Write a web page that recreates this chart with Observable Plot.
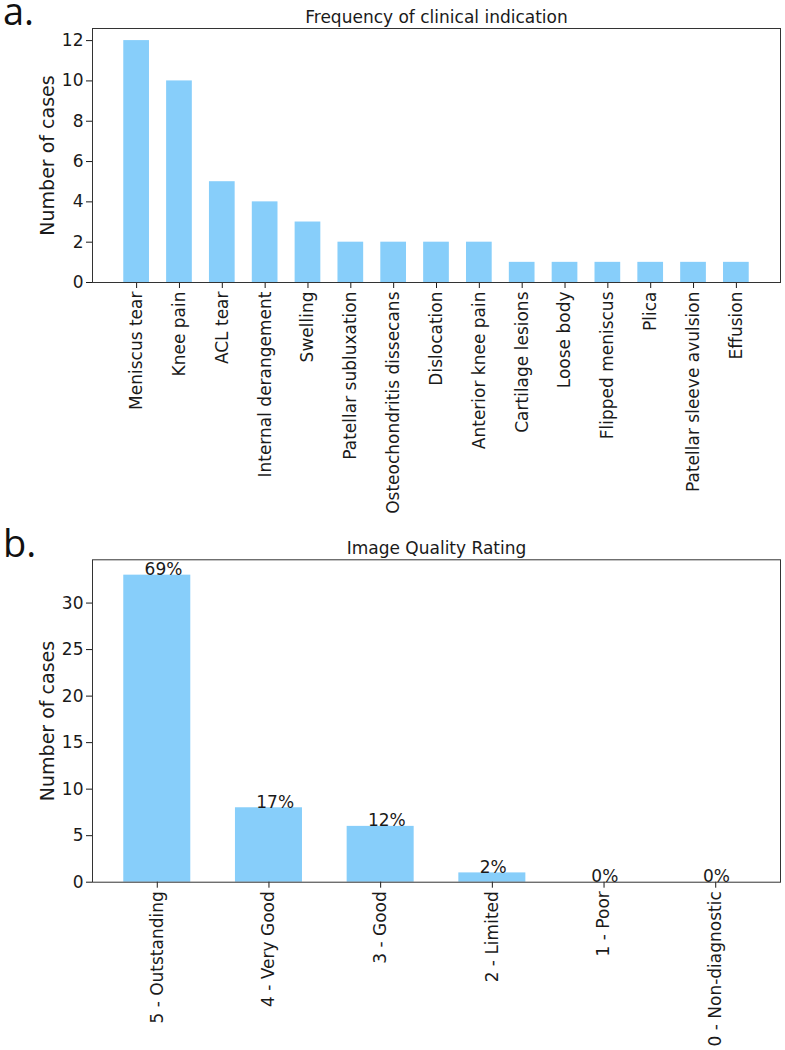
<!DOCTYPE html>
<html>
<head>
<meta charset="utf-8">
<script src="https://cdn.jsdelivr.net/npm/d3@7"></script>
<script src="https://cdn.jsdelivr.net/npm/@observablehq/plot@0.6"></script>
<style>
  html, body { margin: 0; padding: 0; background: #fff; }
  #wrap { width: 785px; height: 1050px; position: relative; overflow: hidden; }
  #wrap svg { display: block; }
  .letter { position: absolute; left: 3px; font-family: "Open Sans", sans-serif; font-size: 38px; line-height: 20px; height: 20px; color: #111; }
</style>
</head>
<body>
<div id="wrap"></div>
<script>
// ---- Data ----
const indications = [
  "Meniscus tear", "Knee pain", "ACL tear", "Internal derangement", "Swelling",
  "Patellar subluxation", "Osteochondritis dissecans", "Dislocation", "Anterior knee pain",
  "Cartilage lesions", "Loose body", "Flipped meniscus", "Plica", "Patellar sleeve avulsion", "Effusion"
];
const indicationCounts = [12, 10, 5, 4, 3, 2, 2, 2, 2, 1, 1, 1, 1, 1, 1];
const yTicksA = [0, 2, 4, 6, 8, 10, 12];

const ratings = ["5 - Outstanding", "4 - Very Good", "3 - Good", "2 - Limited", "1 - Poor", "0 - Non-diagnostic"];
const ratingCounts = [33, 8, 6, 1, 0, 0];
const ratingPercents = ["69%", "17%", "12%", "2%", "0%", "0%"];
const yTicksB = [0, 5, 10, 15, 20, 25, 30];

const titleA = "Frequency of clinical indication";
const titleB = "Image Quality Rating";
const yLabel = "Number of cases";
const panelLetters = ["a.", "b."];

// ---- Styling ----
const barColor = "#87CEFA";
const ink = "#1a1a1a";
const font = "DejaVu Sans, sans-serif";
const wrap = document.getElementById("wrap");

const tableA = indications.map((c, i) => ({cat: c, n: indicationCounts[i]}));
const tableB = ratings.map((c, i) => ({cat: c, n: ratingCounts[i], pct: ratingPercents[i]}));

function panel({data, domain, yMax, yTicks, title, height, marginTop, marginBottom, paddingOuter, pctLabels}) {
  const marks = [
    Plot.barY(data, {x: "cat", y: "n", fill: barColor}),
    Plot.axisY({ticks: yTicks, tickSize: 6, tickPadding: 3, label: null, fontSize: 17}),
    Plot.axisX({tickSize: 6, tickPadding: 3, tickRotate: -90, label: null, fontSize: 17}),
    Plot.frame({stroke: "#333", strokeWidth: 1}),
    Plot.text([title], {frameAnchor: "top", lineAnchor: "bottom", dy: -6, fontSize: 17, fill: ink}),
    Plot.text([yLabel], {frameAnchor: "left", dx: -44.5, rotate: -90, textAnchor: "middle", lineAnchor: "middle", fontSize: 19, fill: ink})
  ];
  if (pctLabels) {
    marks.push(Plot.text(data, {x: "cat", y: "n", text: "pct", textAnchor: "start", lineAnchor: "bottom", dx: -12.7, fontSize: 17, fill: ink}));
  }
  return Plot.plot({
    width: 785,
    height,
    marginLeft: 92,
    marginRight: 5,
    marginTop,
    marginBottom,
    style: {fontFamily: font, fontSize: "17px", color: ink, background: "#fff"},
    x: {domain, type: "band", paddingInner: 0.4, paddingOuter, round: false},
    y: {domain: [0, yMax], ticks: yTicks},
    marks
  });
}

wrap.appendChild(panel({
  data: tableA, domain: indications, yMax: 12.6, yTicks: yTicksA, title: titleA,
  height: 520, marginTop: 28, marginBottom: 238, paddingOuter: 0.73, pctLabels: false
}));

wrap.appendChild(panel({
  data: tableB, domain: ratings, yMax: 34.65, yTicks: yTicksB, title: titleB,
  height: 530, marginTop: 39.3, marginBottom: 168.3, paddingOuter: 0.28, pctLabels: true
}));

// panel letters (HTML, baseline ~25px and ~557px)
[[panelLetters[0], 0.3], [panelLetters[1], 532.3]].forEach(([t, top]) => {
  const d = document.createElement("div");
  d.className = "letter";
  d.style.top = top + "px";
  d.textContent = t;
  wrap.appendChild(d);
});
</script>
</body>
</html>
